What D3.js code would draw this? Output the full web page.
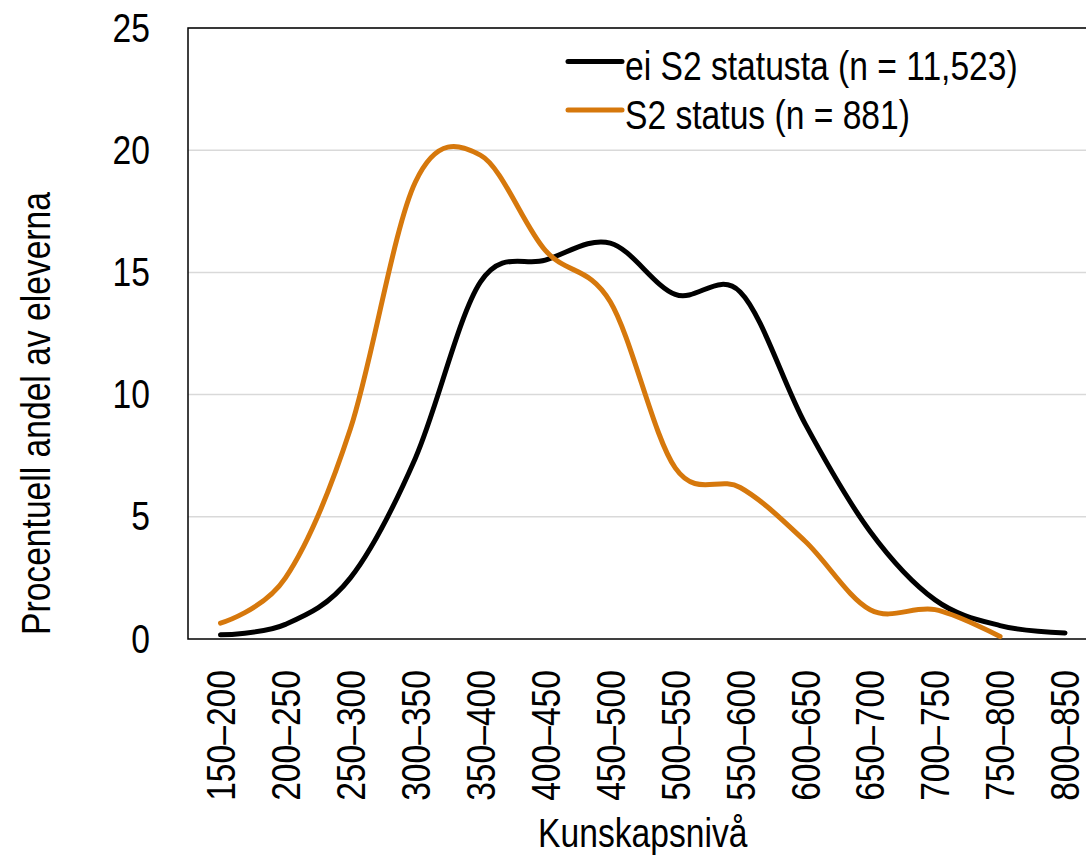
<!DOCTYPE html>
<html>
<head>
<meta charset="utf-8">
<script src="https://cdn.jsdelivr.net/npm/d3@7"></script>
<style>
  body { margin: 0; background: #fff; }
  text { font-family: "Liberation Sans", Arial, sans-serif; fill: #000; }
</style>
</head>
<body>
<div id="chart"></div>
<script>
// data
const categories = ["150–200","200–250","250–300","300–350","350–400","400–450","450–500",
	"500–550","550–600","600–650","650–700","700–750","750–800","800–850"];
const eiS2 = [0.17, 0.6, 2.5, 7.4, 14.6, 15.5, 16.2, 14.1, 14.2, 8.8, 4.4, 1.6, 0.55, 0.25];
const s2 = [0.65, 2.5, 8.6, 18.7, 19.8, 15.9, 13.8, 7.0, 6.2, 4.0, 1.2, 1.2, 0.1];
const yTicks = [0, 5, 10, 15, 20, 25];
const seriesNames = ["ei S2 statusta (n = 11,523)", "S2 status (n = 881)"];
const seriesColors = ["#000000", "#d6780c"];

const width = 1086, height = 857;
const margin = {left: 188, top: 28, bottom: 218};
const plotRight = 1097.5;
const fontSize = 41;
const squeeze = 0.82; // text in the picture is narrow

let svg = d3.select("#chart").append("svg")
	.attr("width", width)
	.attr("height", height);

//scales
let xScale = d3.scaleBand()
	.domain(categories)
	.range([margin.left, plotRight]);

let yScale = d3.scaleLinear()
	.domain([0, 25])
	.range([height - margin.bottom, margin.top]);

const xc = c => xScale(c) + xScale.bandwidth() / 2;

function narrowText(parent, x, y, rot, str, anchor){
	return parent.append("text")
		.attr("transform", `translate(${x},${y}) rotate(${rot}) scale(${squeeze},1)`)
		.attr("text-anchor", anchor)
		.attr("font-size", fontSize)
		.text(str);
}

//gridlines
svg.append("g")
	.selectAll("line")
	.data(yTicks.filter(d => d > 0))
	.join("line")
	.attr("x1", margin.left)
	.attr("x2", plotRight)
	.attr("y1", d => yScale(d))
	.attr("y2", d => yScale(d))
	.attr("stroke", "#d9d9d9")
	.attr("stroke-width", 1.5);

//frame
svg.append("rect")
	.attr("x", margin.left)
	.attr("y", yScale(25))
	.attr("width", plotRight - margin.left)
	.attr("height", yScale(0) - yScale(25))
	.attr("fill", "none")
	.attr("stroke", "#000")
	.attr("stroke-width", 1.5);

//y axis labels
let yAxis = svg.append("g")
	.attr("transform", `translate(${margin.left},0)`)
	.call(d3.axisLeft(yScale).tickValues(yTicks).tickSize(0).tickPadding(38));
yAxis.select(".domain").remove();
yAxis.selectAll("text")
	.attr("font-size", fontSize)
	.attr("font-family", null)
	.attr("x", -38 / squeeze)
	.attr("transform", `scale(${squeeze},1)`);

//x axis labels
let xAxis = svg.append("g")
	.attr("transform", `translate(0,${yScale(0)})`)
	.call(d3.axisBottom(xScale).tickSize(0));
xAxis.select(".domain").remove();
xAxis.selectAll("text")
	.attr("font-size", fontSize)
	.attr("font-family", null)
	.attr("text-anchor", "end")
	.attr("transform", `rotate(-90) scale(${squeeze},1)`)
	.attr("x", -31 / squeeze)
	.attr("y", 0)
	.attr("dy", "0.35em");

//lines
const line = d3.line()
	.x((d, i) => xc(categories[i]))
	.y(d => yScale(d))
	.curve(d3.curveCardinal.tension(0));

[eiS2, s2].forEach((series, i) => {
	svg.append("path")
		.datum(series)
		.attr("d", line)
		.attr("fill", "none")
		.attr("stroke", seriesColors[i])
		.attr("stroke-width", 5)
		.attr("stroke-linecap", "round")
		.attr("stroke-linejoin", "round");
});

//axis titles
narrowText(svg, (margin.left + plotRight) / 2, 847, 0, "Kunskapsnivå", "middle");
narrowText(svg, 50, (yScale(0) + 188) / 2, -90, "Procentuell andel av eleverna", "middle");

//legend
let legend = svg.append("g");
seriesNames.forEach((name, i) => {
	let ly = 61.5 + i * 48.5;
	legend.append("line")
		.attr("x1", 568).attr("x2", 622)
		.attr("y1", ly).attr("y2", ly)
		.attr("stroke", seriesColors[i])
		.attr("stroke-width", 5)
		.attr("stroke-linecap", "round");
	narrowText(legend, 625, ly + 18.5, 0, name, "start");
});
</script>
</body>
</html>
